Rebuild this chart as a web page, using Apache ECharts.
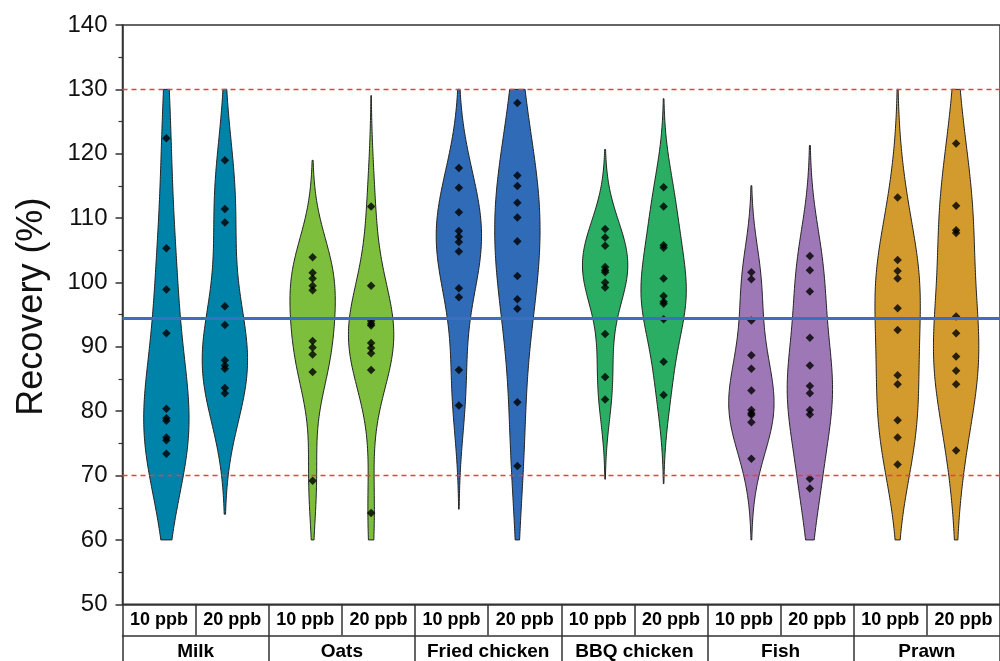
<!DOCTYPE html>
<html><head><meta charset="utf-8">
<script src="https://cdn.jsdelivr.net/npm/echarts@6/dist/echarts.min.js"></script>
<style>html,body{margin:0;padding:0;background:#fff}#c{width:1000px;height:661px}</style>
</head><body><div id="c"></div>
<script>
// ---- data ----
const groups = ['Milk', 'Oats', 'Fried chicken', 'BBQ chicken', 'Fish', 'Prawn'];
const levels = ['10 ppb', '20 ppb'];
const groupColors = ['#0083A9', '#7DBE3C', '#2F6BB6', '#2AAE64', '#9E78B6', '#D39B2E'];

const milk10 = [122.4, 105.3, 98.9, 92.1, 80.4, 78.9, 78.5, 75.9, 75.5, 73.4];
const milk20 = [119.0, 111.4, 109.3, 96.3, 93.4, 87.9, 87.1, 86.6, 83.6, 82.8];
const oats10 = [103.9, 101.5, 100.6, 99.5, 98.8, 90.9, 89.9, 88.8, 86.1, 69.2];
const oats20 = [111.8, 99.5, 94.0, 93.6, 93.3, 90.6, 89.8, 89.0, 86.4, 64.2];
const fried10 = [117.8, 114.7, 110.9, 108.0, 107.1, 106.3, 104.8, 99.1, 97.7, 86.4, 80.9];
const fried20 = [127.9, 116.6, 115.0, 112.4, 110.1, 106.4, 101.0, 97.4, 95.9, 81.4, 71.5];
const bbq10 = [108.3, 107.0, 105.7, 102.4, 101.9, 101.6, 100.0, 99.2, 92.0, 85.3, 81.8];
const bbq20 = [114.8, 111.8, 105.8, 105.4, 100.6, 97.9, 97.0, 96.7, 94.3, 87.7, 82.5];
const fish10 = [101.6, 100.5, 94.1, 88.7, 86.6, 83.2, 80.2, 79.7, 79.4, 78.3, 72.6];
const fish20 = [104.1, 101.9, 98.6, 91.4, 87.1, 83.9, 82.8, 80.2, 79.5, 69.5, 68.0];
const prawn10 = [113.2, 103.5, 101.8, 100.6, 96.0, 92.6, 85.6, 84.2, 78.6, 75.9, 71.7];
const prawn20 = [121.6, 111.9, 108.1, 107.7, 94.7, 92.1, 88.5, 86.3, 84.2, 73.9];

const limitLines = [130, 70];
const meanLine = [94.4];
const yTicks = [50, 60, 70, 80, 90, 100, 110, 120, 130, 140];
const densityRange = [60, 130];

// ---- build ----
const sets = [milk10, milk20, oats10, oats20, fried10, fried20, bbq10, bbq20, fish10, fish20, prawn10, prawn20];
const HALF = 0.155;

function kde(vals) {
  const n = vals.length;
  const mean = vals.reduce((a, b) => a + b, 0) / n;
  const sd = Math.sqrt(vals.reduce((a, b) => a + (b - mean) * (b - mean), 0) / (n - 1));
  const s = vals.slice().sort((a, b) => a - b);
  const h = 1.0 * sd * Math.pow(n, -0.2);
  const lo = Math.max(densityRange[0], s[0] - 2.3 * h);
  const hi = Math.min(densityRange[1], s[n - 1] + 2.3 * h);
  const pts = [];
  const steps = 160;
  let maxD = 0;
  for (let i = 0; i <= steps; i++) {
    const y = lo + (hi - lo) * i / steps;
    let d = 0;
    for (const v of vals) { const z = (y - v) / h; d += Math.exp(-0.5 * z * z); }
    d /= n * h * Math.sqrt(2 * Math.PI);
    if (d > maxD) maxD = d;
    pts.push([y, d]);
  }
  return pts.map(p => [p[0], p[1] / maxD * HALF]);
}
const curves = sets.map(kde);
const xPos = sets.map((_, i) => Math.floor(i / 2) + 1 + (i % 2 ? 0.2 : -0.2));

const violinData = sets.map((_, i) => ({ value: [xPos[i], 95] }));
const pointData = [];
sets.forEach((vals, i) => vals.forEach(v => pointData.push([xPos[i], v])));

const levelLabels = [];
groups.forEach(() => levels.forEach(l => levelLabels.push(l)));

const FONT = "'Liberation Sans', Arial, sans-serif";
const chart = echarts.init(document.getElementById('c'), null, { renderer: 'canvas' });
chart.setOption({
  animation: false,
  backgroundColor: '#fff',
  textStyle: { fontFamily: FONT },
  grid: { left: 122.5, right: -9.5, top: 25, bottom: 56.7, show: true, borderColor: '#333', borderWidth: 1.5, backgroundColor: 'transparent' },
  xAxis: [
    { type: 'value', min: 0.5, max: 6.5, show: false },
    {
      type: 'category', data: levelLabels, position: 'bottom',
      axisLine: { show: true, lineStyle: { color: '#333', width: 1.5 } },
      axisTick: { show: true, interval: 0, length: 31, lineStyle: { color: '#333', width: 1.5 } },
      axisLabel: { interval: 0, fontSize: 18, fontWeight: 'bold', color: '#000', margin: 16, verticalAlign: 'middle', fontFamily: FONT },
      splitLine: { show: false }
    },
    {
      type: 'category', data: groups, position: 'bottom', offset: 31,
      axisLine: { show: true, lineStyle: { color: '#333', width: 1.5 } },
      axisTick: { show: true, interval: 0, length: 32, lineStyle: { color: '#333', width: 1.5 } },
      axisLabel: { interval: 0, fontSize: 19, fontWeight: 'bold', color: '#000', margin: 16, verticalAlign: 'middle', fontFamily: FONT },
      splitLine: { show: false }
    }
  ],
  yAxis: {
    type: 'value', min: yTicks[0], max: yTicks[yTicks.length - 1], interval: 10,
    name: 'Recovery (%)', nameLocation: 'middle', nameGap: 72, nameRotate: 90,
    nameTextStyle: { fontSize: 36, color: '#111', fontFamily: FONT, padding: [0, 0, 0, 16] },
    axisLine: { show: true, lineStyle: { color: '#333', width: 1.5 } },
    axisTick: { show: true, length: 7, lineStyle: { color: '#333', width: 1.5 } },
    minorTick: { show: true, splitNumber: 2, length: 4, lineStyle: { color: '#333', width: 1.2 } },
    axisLabel: { fontSize: 24, color: '#111', margin: 15, fontFamily: FONT },
    splitLine: { show: false }
  },
  series: [
    {
      type: 'custom', xAxisIndex: 0, z: 2,
      encode: { x: 0, y: 1 },
      data: violinData,
      renderItem: function (params, api) {
        const i = params.dataIndex;
        const x = xPos[i];
        const c = curves[i];
        const left = c.map(p => api.coord([x - p[1], p[0]]));
        const right = c.slice().reverse().map(p => api.coord([x + p[1], p[0]]));
        return {
          type: 'polygon',
          shape: { points: left.concat(right) },
          style: { fill: groupColors[Math.floor(i / 2)], stroke: '#222', lineWidth: 1 }
        };
      }
    },
    {
      type: 'line', xAxisIndex: 0, z: 3, data: [], silent: true,
      markLine: {
        silent: true, symbol: ['none', 'none'], label: { show: false },
        data: limitLines.map(v => ({ yAxis: v, lineStyle: { color: '#F23B3B', type: [5, 4], width: 1.4 } }))
          .concat(meanLine.map(v => ({ yAxis: v, lineStyle: { color: '#3D6FBF', type: 'solid', width: 3 } })))
      }
    },
    {
      type: 'scatter', xAxisIndex: 0, z: 4, symbol: 'diamond', symbolSize: 8.5,
      itemStyle: { color: '#000' }, data: pointData
    }
  ]
});
</script>
</body></html>
